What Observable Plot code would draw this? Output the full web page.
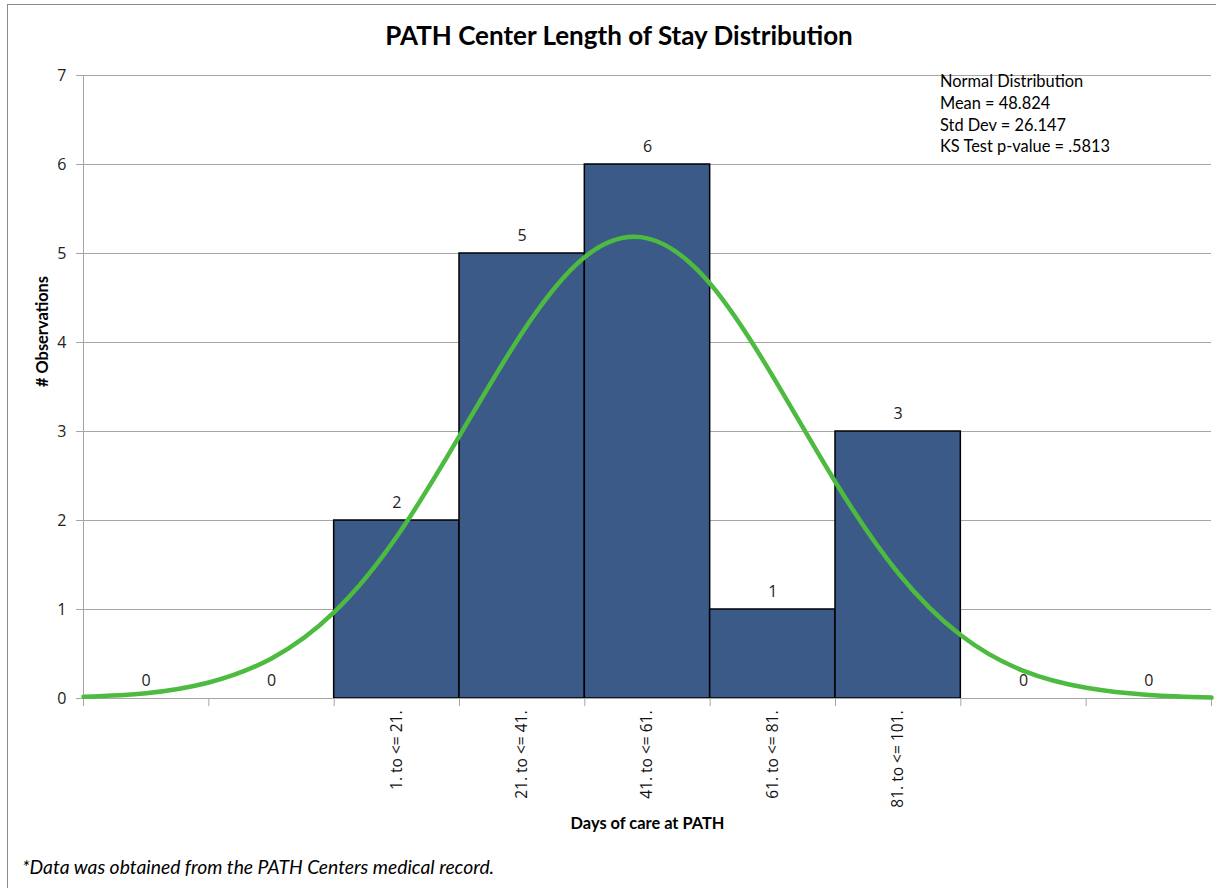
<!DOCTYPE html>
<html>
<head>
<meta charset="utf-8">
<script src="https://cdn.jsdelivr.net/npm/d3@7"></script>
<script src="https://cdn.jsdelivr.net/npm/@observablehq/plot@0.6"></script>
<style>
  html, body { margin: 0; padding: 0; background: #fff; }
  #wrap { position: relative; width: 1216px; height: 888px; overflow: hidden; }
  #frame { position: absolute; left: 7px; top: 4px; width: 1220px; height: 900px;
           border-left: 1px solid #8c8c8c; border-top: 1px solid #8c8c8c; box-sizing: border-box; }
  #title { position: absolute; left: 0; width: 1238px; top: 19px; text-align: center;
           font: bold 26px Lato, "Open Sans", sans-serif; color: #000; }
  #note { position: absolute; left: 940px; top: 70px; font: 16.4px Lato, "Open Sans", sans-serif;
          line-height: 21.8px; color: #000; }
  #foot { position: absolute; left: 22px; top: 855px; font: italic 19.3px Lato, "Open Sans", sans-serif; color: #000; }
  #chart { position: absolute; left: 0; top: 0; }
</style>
</head>
<body>
<div id="wrap">
  <div id="frame"></div>
  <div id="chart"></div>
  <div id="title">PATH Center Length of Stay Distribution</div>
  <div id="note">Normal Distribution<br>Mean = 48.824<br>Std Dev = 26.147<br>KS Test p-value = .5813</div>
  <div id="foot">*Data was obtained from the PATH Centers medical record.</div>
</div>
<script>
// ---- data ----
const binStart = [-39, -19, 1, 21, 41, 61, 81, 101, 121];
const binEnd   = [-19, 1, 21, 41, 61, 81, 101, 121, 141];
const binLabels = ["", "", "1. to <= 21.", "21. to <= 41.", "41. to <= 61.", "61. to <= 81.", "81. to <= 101.", "", ""];
const counts = [0, 0, 2, 5, 6, 1, 3, 0, 0];
const yTicks = [0, 1, 2, 3, 4, 5, 6, 7];
// fitted normal curve (days, # observations)
const curveDays = [-39, -29, -19, -9, 1, 11, 21, 31, 41, 51, 61, 71, 81, 91, 101, 111, 121, 131, 141];
const curveVals = [0.02, 0.06, 0.18, 0.45, 0.97, 1.82, 2.95, 4.11, 4.96, 5.17, 4.66, 3.62, 2.43, 1.41, 0.71, 0.31, 0.12, 0.04, 0.01];

const bins = counts.map((c, i) => ({x1: binStart[i], x2: binEnd[i], count: c, label: binLabels[i], mid: (binStart[i] + binEnd[i]) / 2}));
const curve = curveDays.map((d, i) => ({day: d, v: curveVals[i]}));
const edges = [binStart[0], ...binEnd];
const bars = bins.filter(d => d.count > 0);
const labeled = bins.filter(d => d.label !== "");
const labelByMid = new Map(labeled.map(d => [d.mid, d.label]));

const numFont = "'Open Sans', 'DejaVu Sans', sans-serif";
const lato = "Lato, 'Open Sans', sans-serif";
const chart = Plot.plot({
  width: 1216,
  height: 888,
  marginTop: 75,
  marginBottom: 190,
  marginLeft: 83,
  marginRight: 5,
  x: {type: "linear", domain: [-39, 141], axis: null},
  y: {type: "linear", domain: [0, 7], axis: null},
  style: {background: "transparent", overflow: "visible", fontFamily: numFont},
  marks: [
    // gridlines
    Plot.gridY(yTicks, {stroke: "#a6a6a6", strokeOpacity: 1, strokeWidth: 1}),
    // y axis with ticks
    Plot.axisY(yTicks, {tickSize: 7, tickPadding: 10, stroke: "#a6a6a6", fill: "#222", fontSize: 16, fontFamily: numFont, tickFormat: d => String(d)}),
    Plot.ruleX([-39], {y1: 0, y2: 7, stroke: "#a6a6a6"}),
    // bars
    Plot.rectY(bars, {x1: "x1", x2: "x2", y: "count", fill: "#3b5a88", stroke: "#000", strokeWidth: 1.5}),
    // x axis line and ticks at bin edges
    Plot.ruleY([0], {stroke: "#a6a6a6"}),
    Plot.axisX(edges, {tickSize: 8, stroke: "#a6a6a6", tickFormat: () => ""}),
    // rotated category labels
    Plot.axisX(labeled.map(d => d.mid), {tickSize: 0, tickPadding: 12, tickRotate: -90, tickFormat: d => labelByMid.get(d), fontSize: 15.5, fontFamily: numFont, fill: "#111"}),
    // bar value labels
    Plot.text(bins, {x: "mid", y: "count", text: d => String(d.count), dy: -18, fontSize: 16, fontFamily: numFont, fill: "#222"}),
    // normal curve
    Plot.line(curve, {x: "day", y: "v", curve: "natural", stroke: "#4dbb3f", strokeWidth: 4.5, strokeLinecap: "round"}),
    // axis titles
    Plot.text(["Days of care at PATH"], {frameAnchor: "bottom", dy: 130, text: d => d, fontSize: 16.4, fontWeight: "bold", fontFamily: lato, fill: "#000"}),
    Plot.text(["# Observations"], {frameAnchor: "left", dx: -41, rotate: -90, text: d => d, fontSize: 16.4, fontWeight: "bold", fontFamily: lato, fill: "#000"})
  ]
});
document.getElementById("chart").appendChild(chart);
</script>
</body>
</html>
